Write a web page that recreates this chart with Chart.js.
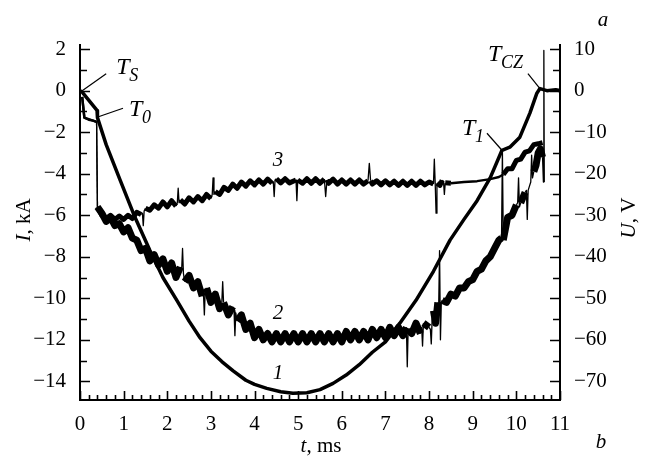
<!DOCTYPE html>
<html>
<head>
<meta charset="utf-8">
<script src="https://cdn.jsdelivr.net/npm/chart.js@4"></script>
<style>
  html, body { margin: 0; padding: 0; background: #fff; }
  #plot { display: block; }
</style>
</head>
<body>
<canvas id="plot" width="645" height="457"></canvas>
<script>
// tick labels
const timeTicks = [0, 1, 2, 3, 4, 5, 6, 7, 8, 9, 10, 11];
const currentTicks = [-14, -12, -10, -8, -6, -4, -2, 0, 2];
const voltageTicks = [-70, -60, -50, -40, -30, -20, -10, 0, 10];

// curve 1: current I, kA
const curve1T = [0, 0.05, 0.39, 0.4, 0.6, 0.92, 1.26, 1.6, 1.9, 2.22, 2.5, 2.75, 3.0, 3.25, 3.51, 3.8, 4.0, 4.28, 4.6, 4.88,
  5.2, 5.5, 5.8, 6.1, 6.4, 6.7, 7.0, 7.33, 7.7, 8.1, 8.48, 8.8, 9.1, 9.4, 9.67, 9.85, 10.08, 10.31, 10.47, 10.54, 10.7, 10.9, 11];
const curve1I = [0, -0.07, -0.95, -1.3, -2.6, -4.31, -6.1, -7.69, -9.0, -10.1, -11.1, -11.9, -12.55, -13.05, -13.5, -13.95, -14.15, -14.34, -14.5, -14.58,
  -14.55, -14.4, -14.1, -13.7, -13.2, -12.6, -12.1, -11.2, -10.1, -8.7, -7.2, -6.2, -5.3, -4.2, -2.87, -2.72, -2.24, -1.08, -0.12, 0.1, 0, 0.05, 0];

// curve 2: voltage U, V (noisy, lower)
const curve2T = [0.05, 0.1, 0.2, 0.3, 0.38, 0.4, 0.5, 0.6, 0.7, 0.8, 0.9, 1.0, 1.1, 1.2, 1.3, 1.4, 1.5, 1.6, 1.7, 1.8, 1.9,
  2.0, 2.1, 2.2, 2.3, 2.33, 2.35, 2.37, 2.4, 2.5, 2.6, 2.7, 2.8, 2.83, 2.85, 2.87, 2.9, 3.0, 3.1, 3.2, 3.25, 3.27, 3.29, 3.4,
  3.5, 3.53, 3.55, 3.57, 3.6, 3.7, 3.8, 3.9,
  4.0, 4.1, 4.2, 4.3, 4.4, 4.5, 4.6, 4.7, 4.8, 4.9, 5.0, 5.1, 5.2, 5.3, 5.4, 5.5, 5.6, 5.7, 5.8, 5.9,
  6.0, 6.1, 6.2, 6.3, 6.4, 6.5, 6.6, 6.7, 6.8, 6.9, 7.0, 7.1, 7.2, 7.3, 7.4, 7.48, 7.5, 7.52, 7.6, 7.7, 7.8, 7.83, 7.85, 7.87,
  8.0, 8.03, 8.05, 8.07, 8.1, 8.15, 8.2, 8.22, 8.24, 8.26, 8.28, 8.3, 8.4, 8.5, 8.6, 8.7, 8.8, 8.9,
  9.0, 9.1, 9.2, 9.3, 9.4, 9.5, 9.6, 9.66, 9.68, 9.7, 9.8, 9.9,
  10.0, 10.03, 10.05, 10.07, 10.1, 10.2, 10.23, 10.25, 10.27, 10.3, 10.33, 10.35, 10.37, 10.4, 10.45, 10.5, 10.55, 10.6,
  10.62, 10.63, 10.64];
const curve2U = [-1.5, -6.5, -7, -7.2, -7.5, -28, -29.5, -31.5, -30.5, -32.5, -32, -34, -33, -35.5, -36, -38.5, -38, -41, -39.5, -42, -40.5,
  -43.5, -41.5, -45, -42.5, -43, -38, -44, -46, -44.5, -47.5, -46, -49.5, -49, -54, -48, -47.5, -51, -49, -52.5, -51, -46, -51, -54,
  -52, -53, -59, -53.5, -55.5, -54, -57.5, -56,
  -59.5, -57.5, -60, -58.5, -60.5, -58.5, -60.5, -58.5, -60.5, -58.5, -60.5, -58.5, -60.5, -58.5, -60.5, -58.5, -60.5, -58.5, -60.5, -58.5,
  -60.5, -58, -60, -58, -60, -58, -60, -57.5, -59.5, -57.5, -59.5, -57, -59, -57, -59, -57, -66.5, -57.5, -58.5, -56, -58.5, -57, -61.5, -56,
  -57, -57.5, -61, -55, -53, -56, -51, -52, -38.5, -60, -51, -50.5, -51, -49, -49.5, -47.5, -47.5, -46,
  -45.5, -43.5, -43, -41, -40, -38, -36, -35.5, -14.5, -36, -30.5, -30,
  -27.5, -27, -21, -28, -27, -24.5, -24, -31, -24, -23, -22, -15.5, -21, -19.5, -18, -15, -14, -16,
  -22, 9.7, -22];

// curve 3: voltage U, V (noisy, upper)
const curve3T = [0.05, 0.1, 0.38, 0.4, 0.5, 0.6, 0.7, 0.8, 0.9, 1.0, 1.1, 1.2, 1.3, 1.4, 1.43, 1.45, 1.47, 1.5, 1.6, 1.7, 1.8, 1.9,
  2.0, 2.1, 2.2, 2.23, 2.25, 2.27, 2.3, 2.4, 2.5, 2.6, 2.7, 2.8, 2.9, 3.0, 3.03, 3.05, 3.07, 3.1, 3.2, 3.3, 3.4, 3.5, 3.6, 3.7, 3.8, 3.9,
  4.0, 4.1, 4.2, 4.3, 4.4, 4.43, 4.45, 4.47, 4.5, 4.6, 4.7, 4.8, 4.95, 4.97, 4.99, 5.1, 5.2, 5.3, 5.4, 5.5, 5.6, 5.63, 5.66, 5.7, 5.8, 5.9,
  6.0, 6.1, 6.2, 6.3, 6.4, 6.5, 6.6, 6.63, 6.66, 6.7, 6.8, 6.9, 7.0, 7.1, 7.2, 7.3, 7.4, 7.5, 7.6, 7.7, 7.8, 7.9,
  8.0, 8.1, 8.12, 8.14, 8.16, 8.18, 8.25, 8.3, 8.33, 8.35, 8.37, 8.5, 8.8, 9.1, 9.4, 9.6, 9.7, 9.8, 9.9,
  10.0, 10.1, 10.2, 10.3, 10.4, 10.5, 10.6];
const curve3U = [-1.5, -6.5, -7.5, -28, -30, -30.8, -30, -31, -30.2, -31, -30, -30.8, -29.3, -29.8, -29.5, -32.5, -29, -28.3, -28.8, -27.5, -28.3, -26.8,
  -28, -26.5, -27.8, -27, -23.5, -27, -26.3, -27.3, -25.8, -26.8, -25.5, -26.5, -25, -26, -25, -21, -25, -24.3, -25, -23.3, -24, -22.5, -23.5, -22, -23, -21.7,
  -22.7, -21.5, -22.5, -21.3, -22.3, -22, -25.5, -21.5, -21.2, -22.2, -21.2, -22.2, -21.5, -26.5, -21.5, -22.3, -21.2, -22.3, -21.2, -22.3, -21.3, -25.5, -21.5, -22.3, -21.3, -22.5,
  -21.5, -22.5, -21.5, -22.5, -21.5, -22.5, -21.7, -17.5, -21.7, -22.5, -21.7, -22.7, -21.7, -22.7, -21.8, -22.8, -21.8, -22.8, -21.8, -22.8, -21.8, -22.7,
  -22, -22.5, -16.5, -22.3, -29.5, -22.3, -22.8, -21.6, -21.8, -25, -22.2, -22.3, -22, -21.8, -21.3, -20.8, -20.2, -18.8, -18.8,
  -16.8, -16.5, -14.8, -14.5, -13, -12.8, -12.5];

const serif = "'Liberation Serif', 'Times New Roman', serif";

function toPoints(xs, ys) {
  return xs.map((x, i) => ({ x: x, y: ys[i] }));
}

// closely spaced points are spikes and jumps: draw them thin;
// quiet stretches of the trace are drawn with a plain line
function segWidth(quiet) {
  return (ctx) => {
    const x0 = ctx.p0.parsed.x, x1 = ctx.p1.parsed.x;
    if (x1 - x0 < 0.035) return 1.3;
    if (quiet.some(r => x0 >= r[0] && x1 <= r[1])) return 2.4;
    return undefined;
  };
}

const decorations = {
  id: "decorations",
  afterDraw(chart) {
    const c = chart.ctx;
    const x = chart.scales.x, y = chart.scales.y, y2 = chart.scales.y2;
    const area = chart.chartArea;
    c.save();
    c.strokeStyle = "#000";
    c.fillStyle = "#000";
    c.lineWidth = 1.6;

    // inward tick marks
    c.beginPath();
    for (let t = 0; t <= 11.001; t += 0.2) {
      const px = Math.round(x.getPixelForValue(t)) + 0.5;
      const major = Math.abs(t - Math.round(t)) < 0.01;
      c.moveTo(px, area.bottom);
      c.lineTo(px, area.bottom - (major ? 9 : 5));
    }
    for (let v = -14; v <= 2; v += 1) {
      const py = Math.round(y.getPixelForValue(v)) + 0.5;
      c.moveTo(area.left, py);
      c.lineTo(area.left + (v % 2 === 0 ? 10 : 7), py);
    }
    for (let v = -70; v <= 10; v += 5) {
      const py = Math.round(y2.getPixelForValue(v)) + 0.5;
      c.moveTo(area.right, py);
      c.lineTo(area.right - (v % 10 === 0 ? 10 : 7), py);
    }
    c.stroke();

    // axis titles
    const drawParts = (parts, px, py, rot) => {
      c.save();
      c.translate(px, py);
      c.rotate(rot);
      let total = 0;
      parts.forEach(p => { c.font = p[1]; total += c.measureText(p[0]).width; });
      let cx = -total / 2;
      c.textBaseline = "middle";
      c.textAlign = "left";
      parts.forEach(p => {
        c.font = p[1];
        c.fillText(p[0], cx, p[2] || 0);
        cx += c.measureText(p[0]).width;
      });
      c.restore();
    };
    const it = "italic 21px " + serif, rm = "21px " + serif;
    drawParts([["I", it], [", kA", rm]], 24, 220, -Math.PI / 2);
    drawParts([["U", it], [", V", rm]], 629, 218, -Math.PI / 2);
    drawParts([["t", it], [", ms", rm]], 321, 446, 0);
    drawParts([["a", it]], 603, 20, 0);
    drawParts([["b", it]], 601, 442, 0);

    // curve numbers
    const mid = x.getPixelForValue(4.54);
    drawParts([["3", it]], mid, y.getPixelForValue(-3.35), 0);
    drawParts([["2", it]], mid, y.getPixelForValue(-10.72), 0);
    drawParts([["1", it]], mid, y.getPixelForValue(-13.6), 0);

    // point markers with leader lines
    const big = "italic 24px " + serif, sub = "italic 18px " + serif;
    const marker = (t, i, dx, dy, label, tx, ty) => {
      const px = x.getPixelForValue(t), py = y.getPixelForValue(i);
      c.lineWidth = 1.2;
      c.beginPath();
      c.moveTo(px, py);
      c.lineTo(px + dx, py + dy);
      c.stroke();
      c.font = big;
      c.textBaseline = "middle";
      c.textAlign = "left";
      c.fillText("T", px + tx, py + ty);
      c.font = sub;
      c.fillText(label, px + tx + 13, py + ty + 9);
    };
    marker(0.05, 0, 24, -17, "S", 34, -23);
    marker(0.39, -1.28, 26, -9, "0", 32, -8);
    marker(9.67, -2.87, -15, -17, "1", -40, -22);
    marker(10.54, 0.1, -12, -15, "CZ", -52, -34);
    c.restore();
  }
};

new Chart(document.getElementById("plot").getContext("2d"), {
  type: "line",
  data: {
    datasets: [
      {
        label: "1",
        data: toPoints(curve1T, curve1I),
        yAxisID: "y",
        borderColor: "#000",
        borderWidth: 3.5,
        pointRadius: 0,
        borderJoinStyle: "round",
      },
      {
        label: "2",
        data: toPoints(curve2T, curve2U),
        yAxisID: "y2",
        borderColor: "#000",
        borderWidth: 7,
        pointRadius: 0,
        borderJoinStyle: "round",
        segment: { borderWidth: segWidth([[0, 0.45]]) },
      },
      {
        label: "3",
        data: toPoints(curve3T, curve3U),
        yAxisID: "y2",
        borderColor: "#000",
        borderWidth: 5,
        pointRadius: 0,
        borderJoinStyle: "round",
        segment: { borderWidth: segWidth([[0, 0.45], [8.4, 9.7]]) },
      },
    ],
  },
  options: {
    responsive: false,
    animation: false,
    devicePixelRatio: 1,
    layout: { padding: { top: 45 } },
    plugins: { legend: { display: false }, tooltip: { enabled: false } },
    scales: {
      x: {
        type: "linear",
        min: 0,
        max: 11,
        afterBuildTicks: (s) => { s.ticks = timeTicks.map(v => ({ value: v })); },
        afterFit: (s) => { s.height = 57; },
        grid: { display: false },
        border: { display: true, color: "#000", width: 2 },
        ticks: { color: "#000", font: { family: serif, size: 21 }, padding: 4, maxRotation: 0 },
      },
      y: {
        position: "left",
        min: -14.9,
        max: 2.2,
        afterBuildTicks: (s) => { s.ticks = currentTicks.map(v => ({ value: v })); },
        afterFit: (s) => { s.width = 80; },
        grid: { display: false },
        border: { display: true, color: "#000", width: 2 },
        ticks: {
          color: "#000", font: { family: serif, size: 21 }, padding: 6,
          callback: (v) => String(v).replace("-", "\u2212"),
        },
      },
      y2: {
        position: "right",
        min: -74.5,
        max: 11,
        afterBuildTicks: (s) => { s.ticks = voltageTicks.map(v => ({ value: v })); },
        afterFit: (s) => { s.width = 85; },
        grid: { display: false },
        border: { display: true, color: "#000", width: 2 },
        ticks: {
          color: "#000", font: { family: serif, size: 21 }, padding: 6,
          callback: (v) => String(v).replace("-", "\u2212"),
        },
      },
    },
  },
  plugins: [decorations],
});
</script>
</body>
</html>
